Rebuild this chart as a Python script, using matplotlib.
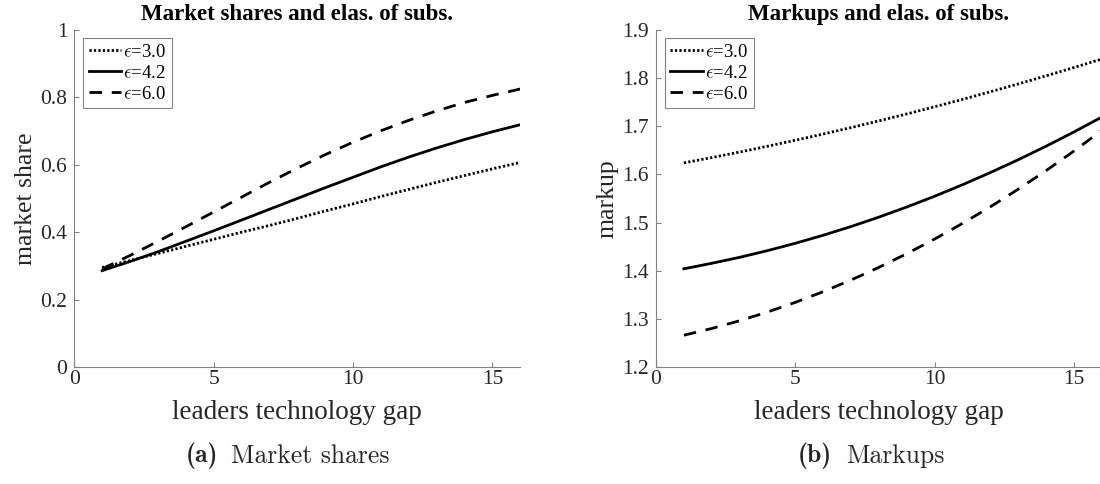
from matplotlib import pyplot as plt
import numpy as np

plt.rcParams['font.family'] = ['Liberation Serif', 'DejaVu Serif']
plt.rcParams['mathtext.fontset'] = 'cm'

# leaders technology gap (x axis, both panels)
gap = [1, 2, 3, 4, 5, 6, 7, 8, 9, 10, 11, 12, 13, 14, 15, 16]

eps_labels = [r'$\epsilon$=3.0', r'$\epsilon$=4.2', r'$\epsilon$=6.0']

# market share of leader
share_e30 = [0.295, 0.316, 0.337, 0.358, 0.379, 0.400, 0.420, 0.441,
             0.463, 0.484, 0.506, 0.527, 0.548, 0.568, 0.588, 0.607]
share_e42 = [0.286, 0.313, 0.342, 0.373, 0.404, 0.436, 0.468, 0.500,
             0.532, 0.563, 0.594, 0.623, 0.650, 0.675, 0.698, 0.719]
share_e60 = [0.291, 0.331, 0.373, 0.416, 0.460, 0.504, 0.548, 0.590,
             0.630, 0.667, 0.701, 0.732, 0.760, 0.785, 0.806, 0.825]

# markups
markup_e30 = [1.624, 1.635, 1.6465, 1.6585, 1.671, 1.6839, 1.6974, 1.7113,
              1.7257, 1.7406, 1.7559, 1.7718, 1.7881, 1.8049, 1.8222, 1.8399]
markup_e42 = [1.404, 1.4154, 1.4278, 1.4417, 1.457, 1.4737, 1.4918, 1.5114,
              1.5324, 1.5548, 1.5787, 1.604, 1.6307, 1.6588, 1.6884, 1.7194]
markup_e60 = [1.266, 1.280, 1.2961, 1.3142, 1.3343, 1.3565, 1.3808, 1.4071,
              1.4355, 1.4659, 1.4984, 1.5329, 1.5695, 1.6081, 1.6488, 1.6916]

styles = [(0, (0.8, 0.8)), '-', (0, (4.5, 3.5))]
grey = '#808080'
txt = '#262626'

fig = plt.figure(figsize=(11, 4.84), dpi=100)
ax1 = fig.add_axes([74.3/1100, 117/484, 446/1100, 337/484])
ax2 = fig.add_axes([656/1100, 117/484, 446/1100, 337/484])


def style_axes(ax, title, ylabel):
    for s in ['top', 'right']:
        ax.spines[s].set_visible(False)
    for s in ['left', 'bottom']:
        ax.spines[s].set_color(grey)
        ax.spines[s].set_linewidth(0.8)
    ax.tick_params(direction='in', length=3.5, width=0.8, color=grey,
                   labelcolor=txt, labelsize=15.5)
    ax.tick_params(axis='x', pad=2)
    ax.tick_params(axis='y', pad=5)
    ax.set_xlim(0, 16)
    ax.set_xticks([0, 5, 10, 15])
    ax.set_title(title, fontsize=16.5, fontweight='bold', pad=7.5)
    ax.set_xlabel('leaders technology gap', fontsize=19.5, color=txt)
    ax.set_ylabel(ylabel, fontsize=18.5, color=txt)
    ax.xaxis.set_label_coords(0.5, -0.098)
    ax.yaxis.set_label_coords(-0.084, 0.5)
    leg = ax.legend(loc='upper left', bbox_to_anchor=(0.0195, 0.976),
                    borderaxespad=0, fontsize=13.5, handlelength=1.75,
                    handletextpad=0.1, borderpad=0.3, labelspacing=0.2,
                    fancybox=False, framealpha=1, edgecolor=grey)
    leg.get_frame().set_linewidth(0.8)


series = [share_e30, share_e42, share_e60]
for i in range(3):
    ax1.plot(gap, series[i], color='black', lw=2.0, ls=styles[i],
             label=eps_labels[i])
ax1.set_ylim(0, 1)
ax1.set_yticks([0, 0.2, 0.4, 0.6, 0.8, 1])
ax1.set_yticklabels(['0', '0.2', '0.4', '0.6', '0.8', '1'])
style_axes(ax1, 'Market shares and elas. of subs.', 'market share')

series = [markup_e30, markup_e42, markup_e60]
for i in range(3):
    ax2.plot(gap, series[i], color='black', lw=2.0, ls=styles[i],
             label=eps_labels[i])
ax2.set_ylim(1.2, 1.9)
ax2.set_yticks(np.arange(1.2, 1.95, 0.1))
ax2.set_yticklabels(['1.2', '1.3', '1.4', '1.5', '1.6', '1.7', '1.8', '1.9'])
style_axes(ax2, 'Markups and elas. of subs.', 'markup')

# sub-figure captions
ycap = 1 - 456/484
fig.text(218/1100, ycap, '(a)', family='cmb10', fontsize=18.5,
         ha='right', va='center', color=txt)
fig.text(231/1100, ycap, 'Market shares', family='cmr10', fontsize=18.5,
         ha='left', va='center', color=txt)
fig.text(832/1100, ycap, '(b)', family='cmb10', fontsize=18.5,
         ha='right', va='center', color=txt)
fig.text(846/1100, ycap, 'Markups', family='cmr10', fontsize=18.5,
         ha='left', va='center', color=txt)

fig.savefig('out.png', dpi=100)
